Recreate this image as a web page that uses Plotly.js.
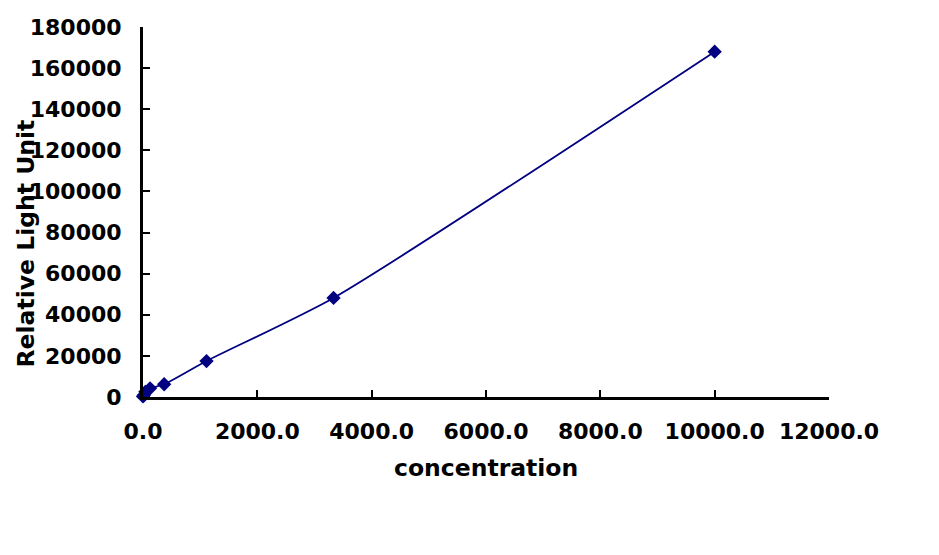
<!DOCTYPE html>
<html>
<head>
<meta charset="utf-8">
<script src="https://cdn.plot.ly/plotly-3.0.1.min.js"></script>
<style>html,body{margin:0;padding:0;background:#fff;}#chart{width:939px;height:555px;}</style>
</head>
<body>
<div id="chart"></div>
<script>
const concentration = [0, 13.7, 41.2, 123.5, 370.4, 1111.1, 3333.3, 10000];
const rlu = [300, 800, 2500, 4200, 6200, 17500, 48200, 168000];
const xTicks = [0, 2000, 4000, 6000, 8000, 10000, 12000];
const yTicks = [0, 20000, 40000, 60000, 80000, 100000, 120000, 140000, 160000, 180000];

const font = {family: 'DejaVu Sans, Liberation Sans, sans-serif', size: 22, color: '#000', weight: 'bold'};
const titleFont = {...font, size: 23.5};

Plotly.newPlot('chart', [{
  x: concentration, y: rlu, type: 'scatter', mode: 'lines+markers',
  line: {color: '#000080', width: 1.8, shape: 'spline', smoothing: 0.6},
  marker: {symbol: 'diamond', size: 11, color: '#000080'},
  cliponaxis: false
}], {
  width: 939, height: 555,
  margin: {l: 143, r: 110, t: 27, b: 158},
  paper_bgcolor: '#fff', plot_bgcolor: '#fff',
  showlegend: false,
  xaxis: {
    range: [0, 12000], tickvals: xTicks, tickformat: '.1f',
    showgrid: false, zeroline: false, showline: true, linecolor: '#000', linewidth: 3,
    ticks: 'inside', ticklen: 7, tickwidth: 2, tickcolor: '#000',
    tickfont: font, ticklabelstandoff: 13
  },
  yaxis: {
    range: [0, 180000], tickvals: yTicks, tickformat: 'd',
    showgrid: false, zeroline: false, showline: true, linecolor: '#000', linewidth: 3,
    ticks: 'inside', ticklen: 7, tickwidth: 2, tickcolor: '#000',
    tickfont: font, ticklabelstandoff: 14
  },
  annotations: [{
    text: 'Relative Light Unit', xref: 'paper', yref: 'paper',
    x: -0.171, y: 0.414, textangle: -90, showarrow: false,
    xanchor: 'center', yanchor: 'middle', font: titleFont
  }, {
    text: 'concentration', xref: 'paper', yref: 'paper',
    x: 0.5, y: -0.192, showarrow: false,
    xanchor: 'center', yanchor: 'middle', font: titleFont
  }]
}, {displayModeBar: false, staticPlot: true});
</script>
</body>
</html>
